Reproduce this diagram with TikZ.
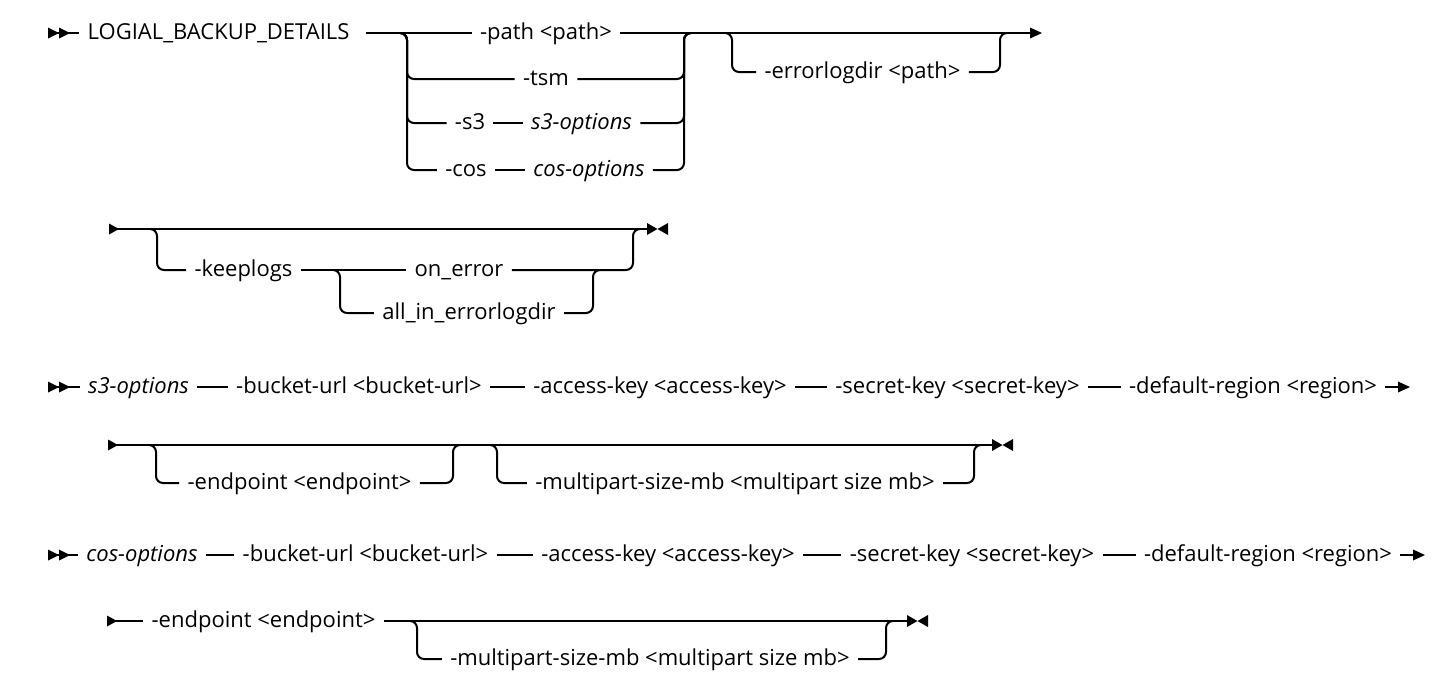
\documentclass[tikz,border=0pt]{standalone}
\usepackage{fontspec}
\setmainfont{Open Sans}
\begin{document}
\begin{tikzpicture}[x=0.5pt,y=-0.5pt,
  rr/.style={line width=1pt},
  rc/.style={rr,rounded corners=3.5pt},
  lbl/.style={font=\fontsize{11}{13}\selectfont, text height=8.2pt, text depth=2.2pt, inner xsep=4pt, inner ysep=0pt},
  itl/.style={lbl, font=\fontsize{11}{13}\selectfont\itshape}]
\useasboundingbox[fill=white] (0,0) rectangle (1456,698);

% ---------- Row 1 ----------
\coordinate (r1s) at (48,33);
\coordinate (r1e) at (1031,33);
\node[lbl] (r1t) at (218.5,33) {LOGIAL\_BACKUP\_DETAILS};
\node[lbl] (path) at (546,33) {-path <path>};
\node[lbl] (tsm) at (546,79) {-tsm};
\node[lbl] (s3a) at (470,123) {-s3};
\node[itl] (s3b) at (581.5,123) {s3-options};
\node[lbl] (cosa) at (466,170) {-cos};
\node[itl] (cosb) at (589,170) {cos-options};
\node[lbl] (err) at (862.5,72) {-errorlogdir <path>};

\draw[rr] (r1s) -- (r1t.west);
\fill (48,27.5) -- (59,33) -- (48,38.5) -- cycle;
\fill (59,27.5) -- (70,33) -- (59,38.5) -- cycle;
\draw[rr] ([xshift=4pt]r1t.east) -- (path.west);
\draw[rr] (path.east) -- (r1e);
\fill (1030,27.5) -- (1042,33) -- (1030,38.5) -- cycle;
% left alternatives
\draw[rc] (400,33) -- (407,33) -- (407,79) -- (tsm.west);
\draw[rc] (400,33) -- (407,33) -- (407,123) -- (s3a.west);
\draw[rc] (400,33) -- (407,33) -- (407,170) -- (cosa.west);
\draw[rr] (s3a) -- (s3b);
\draw[rr] (cosa) -- (cosb);
% right alternatives
\draw[rc] (tsm.east) -- (684,79) -- (684,33) -- (691,33);
\draw[rc] (s3b.east) -- (684,123) -- (684,33) -- (691,33);
\draw[rc] (cosb.east) -- (684,170) -- (684,33) -- (691,33);
% optional errorlogdir
\draw[rc] (725,33) -- (732,33) -- (732,72) -- (err.west);
\draw[rc] (err.east) -- (1000,72) -- (1000,33) -- (1007,33);

% ---------- Row 2 ----------
\coordinate (r2s) at (109,229);
\coordinate (r2e) at (648,229);
\node[lbl] (keep) at (243.5,270) {-keeplogs};
\node[lbl] (onerr) at (459,270) {on\_error};
\node[lbl] (allin) at (469,313) {all\_in\_errorlogdir};
\draw[rr] (r2s) -- (r2e);
\fill (109,223.5) -- (119,229) -- (109,234.5) -- cycle;
\draw[rc] (150,229) -- (157,229) -- (157,270) -- (keep.west);
\draw[rr] (keep.east) -- (onerr.west);
\draw[rc] (333,270) -- (340,270) -- (340,313) -- (allin.west);
\draw[rc] (allin.east) -- (593,313) -- (593,270) -- (600,270);
\draw[rc] (onerr.east) -- (633,270) -- (633,229) -- (640,229);
\fill (647,223) -- (657.5,229) -- (647,235) -- cycle;
\fill (668,223) -- (657.5,229) -- (668,235) -- cycle;

% ---------- Row 3 ----------
\coordinate (r3s) at (48,387);
\coordinate (r3e) at (1399,387);
\node[itl] (s3o) at (138.5,387) {s3-options};
\node[lbl] (bu3) at (359,387) {-bucket-url <bucket-url>};
\node[lbl] (ak3) at (660,387) {-access-key <access-key>};
\node[lbl] (sk3) at (957.5,387) {-secret-key <secret-key>};
\node[lbl] (dr3) at (1253,387) {-default-region <region>};
\draw[rr] (r3s) -- (s3o.west);
\fill (48,381.5) -- (59,387) -- (48,392.5) -- cycle;
\fill (59,381.5) -- (70,387) -- (59,392.5) -- cycle;
\draw[rr] (s3o) -- (bu3);
\draw[rr] (bu3) -- (ak3);
\draw[rr] (ak3) -- (sk3);
\draw[rr] (sk3) -- (dr3);
\draw[rr] (dr3.east) -- (r3e);
\fill (1398,381.5) -- (1410,387) -- (1398,392.5) -- cycle;

% ---------- Row 4 ----------
\coordinate (r4s) at (108,445);
\coordinate (r4e) at (992,445);
\node[lbl] (ep4) at (299.5,483) {-endpoint <endpoint>};
\node[lbl] (mp4) at (735,483) {-multipart-size-mb <multipart size mb>};
\draw[rr] (r4s) -- (r4e);
\fill (108,439.5) -- (118,445) -- (108,450.5) -- cycle;
\draw[rc] (149,445) -- (156,445) -- (156,483) -- (ep4.west);
\draw[rc] (ep4.east) -- (453,483) -- (453,445) -- (460,445);
\draw[rc] (490,445) -- (497,445) -- (497,483) -- (mp4.west);
\draw[rc] (mp4.east) -- (974,483) -- (974,445) -- (981,445);
\fill (992,439) -- (1002.5,445) -- (992,451) -- cycle;
\fill (1013,439) -- (1002.5,445) -- (1013,451) -- cycle;

% ---------- Row 5 ----------
\coordinate (r5s) at (48,555);
\coordinate (r5e) at (1414,555);
\node[itl] (cos5) at (142,555) {cos-options};
\node[lbl] (bu5) at (365.5,555) {-bucket-url <bucket-url>};
\node[lbl] (ak5) at (668,555) {-access-key <access-key>};
\node[lbl] (sk5) at (972,555) {-secret-key <secret-key>};
\node[lbl] (dr5) at (1268,555) {-default-region <region>};
\draw[rr] (r5s) -- (cos5.west);
\fill (48,549.5) -- (59,555) -- (48,560.5) -- cycle;
\fill (59,549.5) -- (70,555) -- (59,560.5) -- cycle;
\draw[rr] (cos5) -- (bu5);
\draw[rr] (bu5) -- (ak5);
\draw[rr] (ak5) -- (sk5);
\draw[rr] (sk5) -- (dr5);
\draw[rr] (dr5.east) -- (r5e);
\fill (1413,549.5) -- (1425,555) -- (1413,560.5) -- cycle;

% ---------- Row 6 ----------
\coordinate (r6s) at (107,621);
\coordinate (r6e) at (907,621);
\node[lbl] (ep6) at (263.5,621) {-endpoint <endpoint>};
\node[lbl] (mp6) at (650,659) {-multipart-size-mb <multipart size mb>};
\draw[rr] (r6s) -- (ep6.west);
\fill (107,615.5) -- (117,621) -- (107,626.5) -- cycle;
\draw[rr] (ep6.east) -- (r6e);
\draw[rc] (410,621) -- (417,621) -- (417,659) -- (mp6.west);
\draw[rc] (mp6.east) -- (886,659) -- (886,621) -- (893,621);
\fill (907,615) -- (917.5,621) -- (907,627) -- cycle;
\fill (928,615) -- (917.5,621) -- (928,627) -- cycle;
\end{tikzpicture}
\end{document}
